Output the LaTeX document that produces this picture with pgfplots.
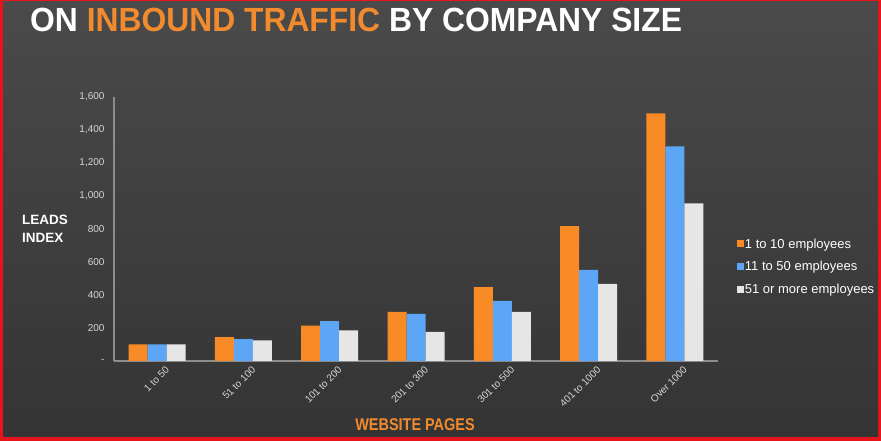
\documentclass[border=0pt]{standalone}
\usepackage{pgfplots}
\pgfplotsset{compat=1.18}
\usepackage{fontspec}
\setmainfont{Liberation Sans}
\newfontfamily\titlefont[FakeStretch=0.95]{Liberation Sans}
\newfontfamily\condfont[FakeStretch=0.85]{Liberation Sans}
\definecolor{bgtop}{HTML}{4A4A4A}
\definecolor{bgbot}{HTML}{343434}
\definecolor{frame}{HTML}{E8141B}
\definecolor{ora}{HTML}{F98B26}
\definecolor{blu}{HTML}{5CA6F5}
\definecolor{wht}{HTML}{E6E6E6}
\definecolor{tick}{HTML}{D6D6D6}
\definecolor{axgray}{HTML}{8C8C8C}
\definecolor{titleora}{HTML}{F28A2E}
\begin{document}
\begin{tikzpicture}[x=1pt,y=1pt]
\fill[frame] (0,0) rectangle (881,441);
\shade[top color=bgtop,bottom color=bgbot] (3,4) rectangle (878,439);
\node[anchor=base west,inner sep=0pt,text=white,font=\titlefont\bfseries\fontsize{33.5}{36}\selectfont] at (30,409)
  {ON \textcolor{titleora}{INBOUND TRAFFIC} BY COMPANY SIZE};
\node[anchor=base west,inner sep=0pt,text=white,font=\bfseries\fontsize{13.5}{16}\selectfont] at (22,216) {LEADS};
\node[anchor=base west,inner sep=0pt,text=white,font=\bfseries\fontsize{13.5}{16}\selectfont] at (22,198) {INDEX};
\node[anchor=base,inner sep=0pt,text=titleora,font=\condfont\bfseries\fontsize{17}{20}\selectfont] at (415,10) {WEBSITE PAGES};
\begin{axis}[
  at={(114pt,80pt)}, anchor=south west,
  scale only axis, width=604pt, height=264pt,
  xmin=-0.5, xmax=6.5, ymin=0, ymax=1600,
  axis lines=left,
  axis line style={-, draw=axgray, line width=1.3pt},
  major tick length=0pt,
  ybar=0pt, bar width=19pt,
  xtick={0,...,6},
  xticklabels={1 to 50,51 to 100,101 to 200,201 to 300,301 to 500,401 to 1000,Over 1000},
  x tick label style={rotate=45, anchor=north east, text=tick, font=\fontsize{10}{12}\selectfont, inner sep=0.5pt, xshift=3pt, yshift=-8pt},
  ytick={0,200,...,1600},
  yticklabels={-,200,400,600,800,{1,000},{1,200},{1,400},{1,600}},
  y tick label style={text=tick, font=\fontsize{10}{12}\selectfont, xshift=-6pt},
  legend style={at={(1.031,0.356)}, anchor=west, draw=none, fill=none, text=white,
    font=\fontsize{13}{15}\selectfont, inner sep=0pt, row sep=10pt,
    nodes={inner sep=1pt}},
  legend cell align=left,
  legend image code/.code={\fill[#1] (0pt,-3pt) rectangle (7pt,4pt);},
  clip=false,
]
\addplot[fill=ora, draw=none] coordinates {(0,100) (1,145) (2,214) (3,297) (4,448) (5,818) (6,1500)};
\addlegendentry{1 to 10 employees}
\addplot[fill=blu, draw=none] coordinates {(0,100) (1,133) (2,242) (3,285) (4,365) (5,552) (6,1300)};
\addlegendentry{11 to 50 employees}
\addplot[fill=wht, draw=none] coordinates {(0,100) (1,125) (2,186) (3,176) (4,297) (5,467) (6,955)};
\addlegendentry{51 or more employees}
\end{axis}
\end{tikzpicture}
\end{document}
